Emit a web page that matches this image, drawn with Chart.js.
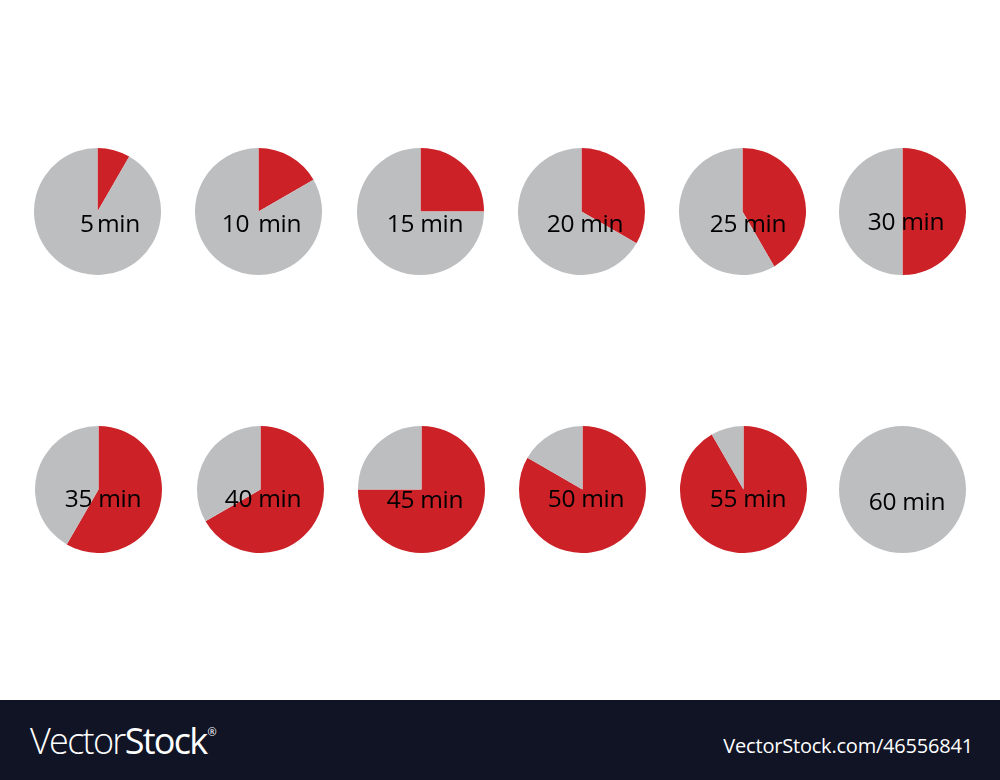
<!DOCTYPE html>
<html>
<head>
<meta charset="utf-8">
<title>Minutes pie charts</title>
<script src="https://cdn.jsdelivr.net/npm/chart.js@4"></script>
<style>
    html, body { margin: 0; padding: 0; background: #fff; }
    #page { position: relative; width: 1000px; height: 780px; overflow: hidden; font-family: "Open Sans", sans-serif; }
    #page canvas { position: absolute; }
    .pie-label { position: absolute; transform: translate(-50%, -50%); font-size: 24.5px; letter-spacing: -0.3px; color: #000; white-space: pre; }
    #footer { position: absolute; left: 0; top: 700px; width: 1000px; height: 80px; background: #111425; color: #fff; }
    #logo { position: absolute; left: 30px; top: 16px; font-size: 36px; font-weight: 300; letter-spacing: -1.7px; white-space: nowrap; }
    #logo b { font-weight: 500; }
    #logo sup { font-size: 11px; font-weight: 400; letter-spacing: 0; vertical-align: 18px; line-height: 0; margin-left: 1px; }
    #code { position: absolute; right: 27px; top: 32px; font-size: 20px; letter-spacing: -0.2px; white-space: nowrap; }
</style>
</head>
<body>
<div id="page">
    <div id="footer">
        <div id="logo">Vector<b>Stock</b><sup>®</sup></div>
        <div id="code">VectorStock.com/46556841</div>
    </div>
</div>
<script>
const labels = ['5 min', '10 min', '15 min', '20 min', '25 min', '30 min', '35 min', '40 min', '45 min', '50 min', '55 min', '60 min'];
const elapsed = [5, 10, 15, 20, 25, 30, 35, 40, 45, 50, 55, 0];
const remaining = [55, 50, 45, 40, 35, 30, 25, 20, 15, 10, 5, 60];

// layout
const centerX = [97.5, 258.5, 420.5, 581.5, 742.5, 902.5, 98.5, 260.5, 421.5, 582.5, 743.5, 902.5];
const centerY = [211.5, 211.5, 211.5, 211.5, 211.5, 211.5, 489.5, 489.5, 489.5, 489.5, 489.5, 489.5];
const labelX = [110, 261.5, 425, 585, 748, 906, 103, 263, 425, 586, 748, 907];
const labelY = [222, 222, 222, 222, 222, 220, 497, 497, 498, 497, 497, 500];
const wordGap = [-3, 3, 0, 0, 0, 0, 0, 0, 0, 0, 0, 0];
const pieSize = 127;

const page = document.getElementById('page');

labels.forEach((label, i) => {
    const canvas = document.createElement('canvas');
    canvas.width = pieSize;
    canvas.height = pieSize;
    canvas.style.width = pieSize + 'px';
    canvas.style.height = pieSize + 'px';
    canvas.style.left = (centerX[i] - pieSize / 2) + 'px';
    canvas.style.top = (centerY[i] - pieSize / 2) + 'px';
    page.appendChild(canvas);

    new Chart(canvas.getContext('2d'), {
        type: 'pie',
        data: {
            labels: ['Elapsed', 'Remaining'],
            datasets: [{
                data: [elapsed[i], remaining[i]],
                backgroundColor: ['#CB2127', '#BCBEC0'],
                borderWidth: 0
            }]
        },
        options: {
            responsive: false,
            animation: false,
            layout: { padding: 0 },
            plugins: {
                legend: { display: false },
                tooltip: { enabled: false }
            }
        }
    });

    const text = document.createElement('div');
    text.className = 'pie-label';
    text.textContent = label;
    text.style.left = labelX[i] + 'px';
    text.style.top = labelY[i] + 'px';
    text.style.wordSpacing = wordGap[i] + 'px';
    page.appendChild(text);
});
</script>
</body>
</html>
